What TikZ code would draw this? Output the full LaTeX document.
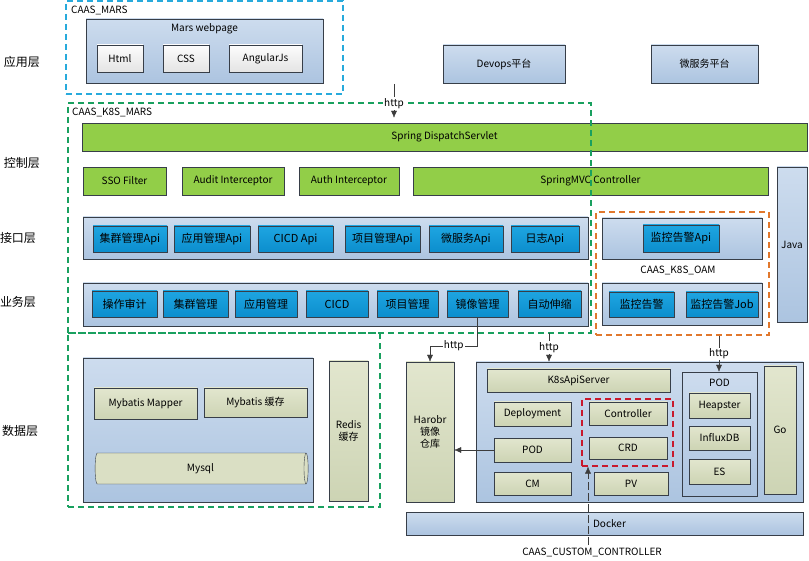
\documentclass[tikz,border=0pt]{standalone}
\usepackage{fontspec}
\setmainfont{Noto Sans CJK SC}
\usetikzlibrary{arrows.meta,shapes.geometric}
\definecolor{edgegray}{RGB}{55,62,72}
\definecolor{arrowgray}{RGB}{60,60,60}
\definecolor{paneltop}{RGB}{205,220,238}
\definecolor{panelbot}{RGB}{172,196,224}
\definecolor{greenfill}{RGB}{146,206,72}
\definecolor{bluetop}{RGB}{30,165,225}
\definecolor{bluebot}{RGB}{12,142,205}
\definecolor{olivetop}{RGB}{226,230,206}
\definecolor{olivebot}{RGB}{205,212,180}
\definecolor{whitetop}{RGB}{252,252,252}
\definecolor{whitebot}{RGB}{228,228,228}
\definecolor{marscyan}{RGB}{40,170,220}
\definecolor{marsgreen}{RGB}{25,160,95}
\definecolor{oamorange}{RGB}{225,120,45}
\definecolor{crdred}{RGB}{200,25,45}
\tikzset{
    panel/.style={rectangle,draw=edgegray,top color=paneltop,bottom color=panelbot,inner sep=0pt},
    gbox/.style={rectangle,draw=edgegray,fill=greenfill,inner sep=0pt},
    bbox/.style={rectangle,draw=edgegray,top color=bluetop,bottom color=bluebot,inner sep=0pt,font=\fontsize{11}{13}\selectfont},
    obox/.style={rectangle,draw=edgegray,top color=olivetop,bottom color=olivebot,inner sep=0pt,align=center},
    wbox/.style={rectangle,draw=edgegray,top color=whitetop,bottom color=whitebot,inner sep=0pt},
    layer/.style={font=\fontsize{12}{14}\selectfont},
    tag/.style={anchor=west,inner sep=0pt},
    zone/.style={rectangle,line width=1.1pt,dash pattern=on 6pt off 4pt,inner sep=0pt},
    dedge/.style={->,> = {Latex[length=7pt,width=6pt]}, draw=arrowgray},
    httplabel/.style={fill=white,inner sep=1pt},
}
\begin{document}
\begin{tikzpicture}[x=1pt,y=-1pt,font=\fontsize{10}{12}\selectfont]
    \useasboundingbox (0,0) rectangle (809,561);
    % layer names
    \node[layer] (l1) at (22,62) {应用层};
    \node[layer] (l2) at (22,163) {控制层};
    \node[layer] (l3) at (18,238) {接口层};
    \node[layer] (l4) at (18,302) {业务层};
    \node[layer] (l5) at (20,431) {数据层};

    % application layer
    \node[panel,minimum width=237,minimum height=64] (web) at (204.5,51) {};
    \node (webtitle) at (204.5,29) {Mars webpage};
    \node[wbox,minimum width=46,minimum height=27] (html) at (120,58.5) {Html};
    \node[wbox,minimum width=46,minimum height=27] (css) at (186,58.5) {CSS};
    \node[wbox,minimum width=73,minimum height=27] (ng) at (265.5,58.5) {AngularJs};
    \node[panel,minimum width=122,minimum height=38] (devops) at (504,64) {Devops平台};
    \node[panel,minimum width=107,minimum height=38] (msp) at (704.5,64) {微服务平台};

    % control layer
    \node[gbox,minimum width=725,minimum height=28] (spring) at (444.5,137) {Spring DispatchServlet};
    \node[gbox,minimum width=83,minimum height=28] (sso) at (124.5,181) {SSO Filter};
    \node[gbox,minimum width=102,minimum height=28] (audit) at (233,181) {Audit Interceptor};
    \node[gbox,minimum width=100,minimum height=28] (auth) at (349,181) {Auth Interceptor};
    \node[gbox,minimum width=355,minimum height=28] (mvc) at (590.5,181) {SpringMVC Controller};
    \node[panel,minimum width=30,minimum height=155] (java) at (792,244.5) {Java};

    % api layer
    \node[panel,minimum width=505,minimum height=42] (apirow) at (335.5,238) {};
    \node[bbox,minimum width=74,minimum height=26] (a1) at (130,239) {集群管理Api};
    \node[bbox,minimum width=76,minimum height=26] (a2) at (212,239) {应用管理Api};
    \node[bbox,minimum width=75,minimum height=26] (a3) at (295.5,239) {CICD Api};
    \node[bbox,minimum width=75,minimum height=26] (a4) at (382.5,239) {项目管理Api};
    \node[bbox,minimum width=74,minimum height=26] (a5) at (466,239) {微服务Api};
    \node[bbox,minimum width=68,minimum height=26] (a6) at (545,239) {日志Api};

    % service layer
    \node[panel,minimum width=505,minimum height=43] (bizrow) at (335.5,304.5) {};
    \node[bbox,minimum width=65,minimum height=26] (b1) at (124.5,304) {操作审计};
    \node[bbox,minimum width=65,minimum height=26] (b2) at (195.5,304) {集群管理};
    \node[bbox,minimum width=62,minimum height=26] (b3) at (266,304) {应用管理};
    \node[bbox,minimum width=62,minimum height=26] (b4) at (337,304) {CICD};
    \node[bbox,minimum width=61,minimum height=26] (b5) at (407.5,304) {项目管理};
    \node[bbox,minimum width=61,minimum height=26] (img) at (477.5,304) {镜像管理};
    \node[bbox,minimum width=63,minimum height=26] (b7) at (549.5,304) {自动伸缩};

    % oam
    \node[panel,minimum width=160,minimum height=41] (oamapi) at (682,238.5) {};
    \node[bbox,minimum width=76,minimum height=27] (m1) at (681,238.5) {监控告警Api};
    \node (oamtag) at (678,270) {CAAS\_K8S\_OAM};
    \node[panel,minimum width=160,minimum height=42] (oambiz) at (682,304) {};
    \node[bbox,minimum width=65,minimum height=25] (m2) at (641.5,304.5) {监控告警};
    \node[bbox,minimum width=72,minimum height=25] (m3) at (722,304.5) {监控告警Job};

    % data layer
    \node[panel,minimum width=230,minimum height=144] (data) at (198,430) {};
    \node[obox,minimum width=103,minimum height=31] (mapper) at (145.5,403.5) {Mybatis Mapper};
    \node[obox,minimum width=103,minimum height=29] (mcache) at (255.5,402.5) {Mybatis 缓存};
    \node[cylinder,draw=edgegray,fill=olivetop!60!olivebot,aspect=0.4,inner sep=0pt,
        minimum width=31,minimum height=213] (mysql) at (200.5,468.5) {Mysql};
    \node[obox,minimum width=39,minimum height=140] (redis) at (348.5,431) {Redis\\缓存};

    % k8s
    \node[obox,minimum width=48,minimum height=140] (harbor) at (430,432) {Harobr\\镜像\\仓库};
    \node[panel,minimum width=327,minimum height=140] (k8s) at (639.5,432) {};
    \node[obox,minimum width=183,minimum height=23] (apisrv) at (578.5,380.5) {K8sApiServer};
    \node[obox,minimum width=77,minimum height=24] (deploy) at (532.5,414) {Deployment};
    \node[obox,minimum width=77,minimum height=24] (pod) at (532.5,450) {POD};
    \node[obox,minimum width=77,minimum height=23] (cm) at (532.5,483.5) {CM};
    \node[obox,minimum width=78,minimum height=23] (ctrl) at (628,413.5) {Controller};
    \node[obox,minimum width=78,minimum height=22] (crd) at (628,448) {CRD};
    \node[obox,minimum width=74,minimum height=23] (pv) at (631,483.5) {PV};
    \node[panel,minimum width=75,minimum height=124] (podbox) at (719.5,434) {};
    \node (podtitle) at (719.5,383) {POD};
    \node[obox,minimum width=61,minimum height=25] (heap) at (719.5,405.5) {Heapster};
    \node[obox,minimum width=61,minimum height=24] (influx) at (719.5,438) {InfluxDB};
    \node[obox,minimum width=61,minimum height=25] (es) at (719.5,471.5) {ES};
    \node[obox,minimum width=32,minimum height=128] (go) at (780,430) {Go};
    \node[panel,minimum width=397,minimum height=23] (docker) at (604.5,523.5) {\hspace{10pt}Docker};
    \node (custom) at (592,552) {CAAS\_CUSTOM\_CONTROLLER};

    % dashed zones
    \node[zone,draw=marscyan,minimum width=277,minimum height=93] (marszone) at (204.5,47.5) {};
    \node[tag] (marstag) at (71,10) {CAAS\_MARS};
    \node[zone,draw=marsgreen,minimum width=523,minimum height=230] (k8smars) at (329.5,218) {};
    \node[zone,draw=marsgreen,minimum width=312,minimum height=174] (datazone) at (224,420) {};
    \node[tag] (k8smarstag) at (72,112) {CAAS\_K8S\_MARS};
    \node[zone,draw=oamorange,minimum width=173,minimum height=123] (oamzone) at (682.5,273.5) {};
    \node[zone,draw=crdred,minimum width=91,minimum height=67] (crdzone) at (627.5,432.5) {};

    % connectors
    \coordinate (webin) at (394,84);
    \coordinate (bizout) at (549,333);
    \coordinate (h1) at (430,346);
    \coordinate (cstart) at (588,545);
    \draw[dedge,shorten >=5pt] (webin) -- node[httplabel] {http} (spring.north -| webin);
    \draw[dedge] (img.south) |- (h1) node[httplabel,pos=0.75] {http} -- (harbor.north);
    \draw[dedge] (bizout) -- node[httplabel] {http} (k8s.north -| bizout);
    \draw[dedge] (oamzone.south -| 719,0) -- node[httplabel] {http} (podbox.north -| 719,0);
    \draw[dedge] (pod.west) -- (harbor.east |- pod.west);
    \draw[dedge,dash pattern=on 8pt off 3pt] (cstart) -- (crdzone.south -| cstart);
\end{tikzpicture}
\end{document}
